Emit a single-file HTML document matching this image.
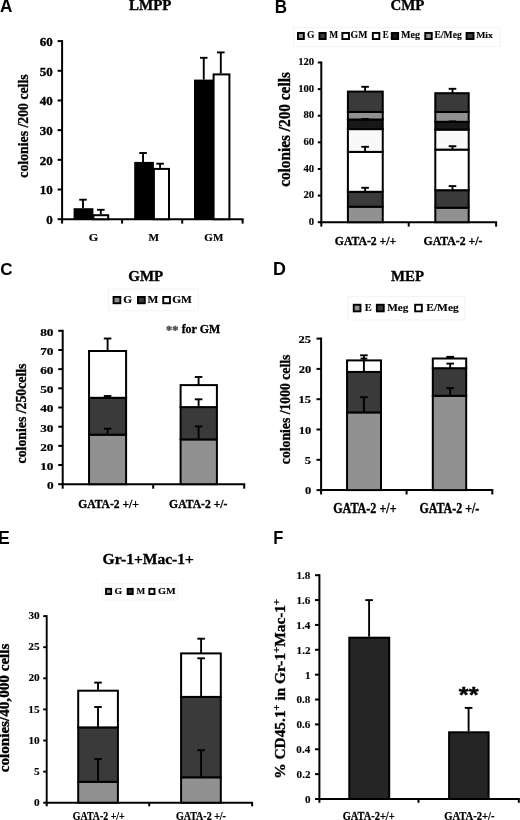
<!DOCTYPE html>
<html><head><meta charset="utf-8"><style>
html,body{margin:0;padding:0;background:#fff;}
svg{display:block;filter:grayscale(100%);}
</style></head><body>
<svg width="520" height="820" viewBox="0 0 520 820">
<rect width="520" height="820" fill="#fff"/>
<text transform="translate(-0.03,12.40) scale(0.9399,1)" font-family="'Liberation Sans',sans-serif" font-weight="bold" font-size="18.26" fill="#000" stroke="#000" stroke-width="0.00" >A</text>
<text transform="translate(274.69,12.60) scale(0.9336,1)" font-family="'Liberation Sans',sans-serif" font-weight="bold" font-size="18.26" fill="#000" stroke="#000" stroke-width="0.00" >B</text>
<text transform="translate(0.22,275.13) scale(0.9951,1)" font-family="'Liberation Sans',sans-serif" font-weight="bold" font-size="17.18" fill="#000" stroke="#000" stroke-width="0.00" >C</text>
<text transform="translate(273.04,275.30) scale(1.0034,1)" font-family="'Liberation Sans',sans-serif" font-weight="bold" font-size="17.83" fill="#000" stroke="#000" stroke-width="0.00" >D</text>
<text transform="translate(-1.95,543.80) scale(0.9692,1)" font-family="'Liberation Sans',sans-serif" font-weight="bold" font-size="18.26" fill="#000" stroke="#000" stroke-width="0.00" >E</text>
<text transform="translate(273.13,543.90) scale(0.8810,1)" font-family="'Liberation Sans',sans-serif" font-weight="bold" font-size="18.70" fill="#000" stroke="#000" stroke-width="0.00" >F</text>
<text transform="translate(129.08,10.40) scale(1.0216,1)" font-family="'Liberation Serif',serif" font-weight="bold" font-size="14.66" fill="#000" stroke="#000" stroke-width="0.35" >LMPP</text>
<text transform="translate(28.35,177.68) rotate(-90) scale(0.9348,1)" font-family="'Liberation Serif',serif" font-weight="bold" font-size="14.75" fill="#000" stroke="#000" stroke-width="0.35">colonies /200 cells</text>
<line x1="62.10" y1="40.10" x2="62.10" y2="220.20" stroke="#000" stroke-width="2"/>
<line x1="57.60" y1="219.20" x2="62.10" y2="219.20" stroke="#000" stroke-width="2"/>
<line x1="57.60" y1="189.52" x2="62.10" y2="189.52" stroke="#000" stroke-width="2"/>
<line x1="57.60" y1="159.83" x2="62.10" y2="159.83" stroke="#000" stroke-width="2"/>
<line x1="57.60" y1="130.15" x2="62.10" y2="130.15" stroke="#000" stroke-width="2"/>
<line x1="57.60" y1="100.47" x2="62.10" y2="100.47" stroke="#000" stroke-width="2"/>
<line x1="57.60" y1="70.78" x2="62.10" y2="70.78" stroke="#000" stroke-width="2"/>
<line x1="57.60" y1="41.10" x2="62.10" y2="41.10" stroke="#000" stroke-width="2"/>
<line x1="61.10" y1="219.20" x2="243.60" y2="219.20" stroke="#000" stroke-width="2"/>
<line x1="62.10" y1="219.20" x2="62.10" y2="223.60" stroke="#000" stroke-width="2"/>
<line x1="122.10" y1="219.20" x2="122.10" y2="223.60" stroke="#000" stroke-width="2"/>
<line x1="182.20" y1="219.20" x2="182.20" y2="223.60" stroke="#000" stroke-width="2"/>
<line x1="242.60" y1="219.20" x2="242.60" y2="223.60" stroke="#000" stroke-width="2"/>
<text transform="translate(46.33,224.12) scale(1.0302,1)" font-family="'Liberation Serif',serif" font-weight="bold" font-size="12.59" fill="#000" stroke="#000" stroke-width="0.35">0</text>
<text transform="translate(39.85,194.44) scale(1.0302,1)" font-family="'Liberation Serif',serif" font-weight="bold" font-size="12.59" fill="#000" stroke="#000" stroke-width="0.35">10</text>
<text transform="translate(39.85,164.76) scale(1.0302,1)" font-family="'Liberation Serif',serif" font-weight="bold" font-size="12.59" fill="#000" stroke="#000" stroke-width="0.35">20</text>
<text transform="translate(39.85,135.07) scale(1.0302,1)" font-family="'Liberation Serif',serif" font-weight="bold" font-size="12.59" fill="#000" stroke="#000" stroke-width="0.35">30</text>
<text transform="translate(39.85,105.39) scale(1.0302,1)" font-family="'Liberation Serif',serif" font-weight="bold" font-size="12.59" fill="#000" stroke="#000" stroke-width="0.35">40</text>
<text transform="translate(39.85,75.71) scale(1.0302,1)" font-family="'Liberation Serif',serif" font-weight="bold" font-size="12.59" fill="#000" stroke="#000" stroke-width="0.35">50</text>
<text transform="translate(39.85,46.02) scale(1.0302,1)" font-family="'Liberation Serif',serif" font-weight="bold" font-size="12.59" fill="#000" stroke="#000" stroke-width="0.35">60</text>
<rect x="73.60" y="208.20" width="19.80" height="11.00" fill="#000"/>
<rect x="93.40" y="215.20" width="14.80" height="4.00" fill="#fff" stroke="#000" stroke-width="2"/>
<line x1="83.00" y1="199.70" x2="83.00" y2="208.20" stroke="#000" stroke-width="1.9"/>
<line x1="79.20" y1="199.70" x2="86.80" y2="199.70" stroke="#000" stroke-width="1.9"/>
<line x1="100.80" y1="209.80" x2="100.80" y2="214.20" stroke="#000" stroke-width="1.9"/>
<line x1="97.00" y1="209.80" x2="104.60" y2="209.80" stroke="#000" stroke-width="1.9"/>
<rect x="134.20" y="161.90" width="19.70" height="57.30" fill="#000"/>
<rect x="153.90" y="168.90" width="15.10" height="50.30" fill="#fff" stroke="#000" stroke-width="2"/>
<line x1="143.05" y1="153.00" x2="143.05" y2="161.90" stroke="#000" stroke-width="1.9"/>
<line x1="139.25" y1="153.00" x2="146.85" y2="153.00" stroke="#000" stroke-width="1.9"/>
<line x1="160.10" y1="163.70" x2="160.10" y2="167.90" stroke="#000" stroke-width="1.9"/>
<line x1="156.30" y1="163.70" x2="163.90" y2="163.70" stroke="#000" stroke-width="1.9"/>
<rect x="194.00" y="79.60" width="19.60" height="139.60" fill="#000"/>
<rect x="213.60" y="74.40" width="15.80" height="144.80" fill="#fff" stroke="#000" stroke-width="2"/>
<line x1="203.75" y1="57.80" x2="203.75" y2="79.60" stroke="#000" stroke-width="1.9"/>
<line x1="199.95" y1="57.80" x2="207.55" y2="57.80" stroke="#000" stroke-width="1.9"/>
<line x1="220.80" y1="52.40" x2="220.80" y2="73.40" stroke="#000" stroke-width="1.9"/>
<line x1="217.00" y1="52.40" x2="224.60" y2="52.40" stroke="#000" stroke-width="1.9"/>
<text transform="translate(88.69,241.09) scale(1.0848,1)" font-family="'Liberation Serif',serif" font-weight="bold" font-size="11.19" fill="#000" stroke="#000" stroke-width="0.20" >G</text>
<text transform="translate(148.48,241.40) scale(0.9884,1)" font-family="'Liberation Serif',serif" font-weight="bold" font-size="11.30" fill="#000" stroke="#000" stroke-width="0.21" >M</text>
<text transform="translate(204.35,241.29) scale(0.9962,1)" font-family="'Liberation Serif',serif" font-weight="bold" font-size="11.04" fill="#000" stroke="#000" stroke-width="0.18" >GM</text>
<text transform="translate(390.46,10.25) scale(0.9981,1)" font-family="'Liberation Serif',serif" font-weight="bold" font-size="14.93" fill="#000" stroke="#000" stroke-width="0.35" >CMP</text>
<rect x="293.50" y="27.70" width="206.70" height="18.80" fill="#fff" stroke="#f3f3f3" stroke-width="1"/>
<rect x="297.95" y="32.95" width="5.90" height="6.10" fill="#919191" stroke="#000" stroke-width="1.9"/>
<rect x="319.45" y="32.95" width="6.20" height="6.10" fill="#3a3a3a" stroke="#000" stroke-width="1.9"/>
<rect x="342.35" y="32.95" width="6.60" height="6.10" fill="#ffffff" stroke="#000" stroke-width="1.9"/>
<rect x="372.85" y="32.95" width="6.50" height="6.10" fill="#ffffff" stroke="#000" stroke-width="1.9"/>
<rect x="391.75" y="32.95" width="6.40" height="6.10" fill="#181818" stroke="#000" stroke-width="1.9"/>
<rect x="425.25" y="32.95" width="6.50" height="6.10" fill="#919191" stroke="#000" stroke-width="1.9"/>
<rect x="466.55" y="32.95" width="7.00" height="6.10" fill="#3a3a3a" stroke="#000" stroke-width="1.9"/>
<text transform="translate(307.02,38.20) scale(0.9716,1)" font-family="'Liberation Serif',serif" font-weight="bold" font-size="9.85" fill="#000" stroke="#000" stroke-width="0.12" >G</text>
<text transform="translate(329.16,38.30) scale(0.9517,1)" font-family="'Liberation Serif',serif" font-weight="bold" font-size="9.92" fill="#000" stroke="#000" stroke-width="0.12" >M</text>
<text transform="translate(350.61,38.20) scale(0.9936,1)" font-family="'Liberation Serif',serif" font-weight="bold" font-size="9.85" fill="#000" stroke="#000" stroke-width="0.12" >GM</text>
<text transform="translate(382.87,38.30) scale(0.8901,1)" font-family="'Liberation Serif',serif" font-weight="bold" font-size="9.92" fill="#000" stroke="#000" stroke-width="0.12" >E</text>
<text transform="translate(400.95,37.94) scale(1.0757,1)" font-family="'Liberation Serif',serif" font-weight="bold" font-size="9.37" fill="#000" stroke="#000" stroke-width="0.12" >Meg</text>
<text transform="translate(434.56,37.92) scale(1.0150,1)" font-family="'Liberation Serif',serif" font-weight="bold" font-size="9.43" fill="#000" stroke="#000" stroke-width="0.12" >E/Meg</text>
<text transform="translate(476.15,38.30) scale(1.0604,1)" font-family="'Liberation Serif',serif" font-weight="bold" font-size="9.21" fill="#000" stroke="#000" stroke-width="0.12" >Mix</text>
<text transform="translate(290.04,186.84) rotate(-90) scale(0.9551,1)" font-family="'Liberation Serif',serif" font-weight="bold" font-size="16.03" fill="#000" stroke="#000" stroke-width="0.35">colonies /200 cells</text>
<line x1="321.30" y1="61.50" x2="321.30" y2="223.20" stroke="#000" stroke-width="2"/>
<line x1="317.80" y1="222.20" x2="321.30" y2="222.20" stroke="#000" stroke-width="2"/>
<line x1="317.80" y1="195.58" x2="321.30" y2="195.58" stroke="#000" stroke-width="2"/>
<line x1="317.80" y1="168.97" x2="321.30" y2="168.97" stroke="#000" stroke-width="2"/>
<line x1="317.80" y1="142.35" x2="321.30" y2="142.35" stroke="#000" stroke-width="2"/>
<line x1="317.80" y1="115.73" x2="321.30" y2="115.73" stroke="#000" stroke-width="2"/>
<line x1="317.80" y1="89.12" x2="321.30" y2="89.12" stroke="#000" stroke-width="2"/>
<line x1="317.80" y1="62.50" x2="321.30" y2="62.50" stroke="#000" stroke-width="2"/>
<line x1="320.30" y1="222.20" x2="497.10" y2="222.20" stroke="#000" stroke-width="2"/>
<line x1="321.30" y1="222.20" x2="321.30" y2="226.60" stroke="#000" stroke-width="2"/>
<line x1="408.70" y1="222.20" x2="408.70" y2="226.60" stroke="#000" stroke-width="2"/>
<line x1="496.10" y1="222.20" x2="496.10" y2="226.60" stroke="#000" stroke-width="2"/>
<text transform="translate(308.87,224.86) scale(1.1491,1)" font-family="'Liberation Serif',serif" font-weight="bold" font-size="9.33" fill="#000" stroke="#000" stroke-width="0.12">0</text>
<text transform="translate(303.50,198.24) scale(1.1491,1)" font-family="'Liberation Serif',serif" font-weight="bold" font-size="9.33" fill="#000" stroke="#000" stroke-width="0.12">20</text>
<text transform="translate(303.50,171.62) scale(1.1491,1)" font-family="'Liberation Serif',serif" font-weight="bold" font-size="9.33" fill="#000" stroke="#000" stroke-width="0.12">40</text>
<text transform="translate(303.50,145.01) scale(1.1491,1)" font-family="'Liberation Serif',serif" font-weight="bold" font-size="9.33" fill="#000" stroke="#000" stroke-width="0.12">60</text>
<text transform="translate(303.50,118.39) scale(1.1491,1)" font-family="'Liberation Serif',serif" font-weight="bold" font-size="9.33" fill="#000" stroke="#000" stroke-width="0.12">80</text>
<text transform="translate(298.14,91.77) scale(1.1491,1)" font-family="'Liberation Serif',serif" font-weight="bold" font-size="9.33" fill="#000" stroke="#000" stroke-width="0.12">100</text>
<text transform="translate(298.14,65.16) scale(1.1491,1)" font-family="'Liberation Serif',serif" font-weight="bold" font-size="9.33" fill="#000" stroke="#000" stroke-width="0.12">120</text>
<rect x="347.90" y="206.70" width="34.85" height="15.50" fill="#919191" stroke="#000" stroke-width="2"/>
<rect x="347.90" y="191.80" width="34.85" height="14.90" fill="#3a3a3a" stroke="#000" stroke-width="2"/>
<rect x="347.90" y="151.90" width="34.85" height="39.90" fill="#ffffff" stroke="#000" stroke-width="2"/>
<rect x="347.90" y="129.10" width="34.85" height="22.80" fill="#f9f9f9" stroke="#000" stroke-width="2"/>
<rect x="347.90" y="119.50" width="34.85" height="9.60" fill="#181818" stroke="#000" stroke-width="2"/>
<rect x="347.90" y="111.90" width="34.85" height="7.60" fill="#919191" stroke="#000" stroke-width="2"/>
<rect x="347.90" y="91.60" width="34.85" height="20.30" fill="#3a3a3a" stroke="#000" stroke-width="2"/>
<line x1="365.10" y1="86.80" x2="365.10" y2="91.60" stroke="#000" stroke-width="1.9"/>
<line x1="361.30" y1="86.80" x2="368.90" y2="86.80" stroke="#000" stroke-width="1.9"/>
<line x1="365.10" y1="146.80" x2="365.10" y2="151.90" stroke="#000" stroke-width="1.9"/>
<line x1="361.30" y1="146.80" x2="368.90" y2="146.80" stroke="#000" stroke-width="1.9"/>
<line x1="365.10" y1="187.80" x2="365.10" y2="191.80" stroke="#000" stroke-width="1.9"/>
<line x1="361.30" y1="187.80" x2="368.90" y2="187.80" stroke="#000" stroke-width="1.9"/>
<line x1="365.10" y1="119.00" x2="365.10" y2="121.00" stroke="#000" stroke-width="1.9"/>
<line x1="361.30" y1="119.00" x2="368.90" y2="119.00" stroke="#000" stroke-width="1.9"/>
<rect x="435.30" y="207.70" width="33.40" height="14.50" fill="#919191" stroke="#000" stroke-width="2"/>
<rect x="435.30" y="190.20" width="33.40" height="17.50" fill="#3a3a3a" stroke="#000" stroke-width="2"/>
<rect x="435.30" y="149.60" width="33.40" height="40.60" fill="#ffffff" stroke="#000" stroke-width="2"/>
<rect x="435.30" y="129.60" width="33.40" height="20.00" fill="#f9f9f9" stroke="#000" stroke-width="2"/>
<rect x="435.30" y="121.80" width="33.40" height="7.80" fill="#181818" stroke="#000" stroke-width="2"/>
<rect x="435.30" y="112.00" width="33.40" height="9.80" fill="#919191" stroke="#000" stroke-width="2"/>
<rect x="435.30" y="93.20" width="33.40" height="18.80" fill="#3a3a3a" stroke="#000" stroke-width="2"/>
<line x1="452.50" y1="88.80" x2="452.50" y2="93.20" stroke="#000" stroke-width="1.9"/>
<line x1="448.70" y1="88.80" x2="456.30" y2="88.80" stroke="#000" stroke-width="1.9"/>
<line x1="452.50" y1="146.20" x2="452.50" y2="149.60" stroke="#000" stroke-width="1.9"/>
<line x1="448.70" y1="146.20" x2="456.30" y2="146.20" stroke="#000" stroke-width="1.9"/>
<line x1="452.50" y1="186.10" x2="452.50" y2="190.20" stroke="#000" stroke-width="1.9"/>
<line x1="448.70" y1="186.10" x2="456.30" y2="186.10" stroke="#000" stroke-width="1.9"/>
<line x1="452.50" y1="121.40" x2="452.50" y2="123.00" stroke="#000" stroke-width="1.9"/>
<line x1="448.70" y1="121.40" x2="456.30" y2="121.40" stroke="#000" stroke-width="1.9"/>
<text transform="translate(334.81,245.07) scale(0.8832,1)" font-family="'Liberation Serif',serif" font-weight="bold" font-size="13.28" fill="#000" stroke="#000" stroke-width="0.35" >GATA-2 +/+</text>
<text transform="translate(423.61,245.07) scale(0.8853,1)" font-family="'Liberation Serif',serif" font-weight="bold" font-size="13.28" fill="#000" stroke="#000" stroke-width="0.35" >GATA-2 +/-</text>
<text transform="translate(128.25,280.66) scale(1.0453,1)" font-family="'Liberation Serif',serif" font-weight="bold" font-size="14.33" fill="#000" stroke="#000" stroke-width="0.35" >GMP</text>
<rect x="108.50" y="289.00" width="89.80" height="21.80" fill="#fff" stroke="#f3f3f3" stroke-width="1"/>
<rect x="113.55" y="296.95" width="6.80" height="6.30" fill="#919191" stroke="#000" stroke-width="1.9"/>
<rect x="137.95" y="296.95" width="6.80" height="6.30" fill="#3a3a3a" stroke="#000" stroke-width="1.9"/>
<rect x="163.25" y="296.95" width="6.70" height="6.30" fill="#ffffff" stroke="#000" stroke-width="1.9"/>
<text transform="translate(123.34,303.49) scale(1.0288,1)" font-family="'Liberation Serif',serif" font-weight="bold" font-size="10.97" fill="#000" stroke="#000" stroke-width="0.17" >G</text>
<text transform="translate(147.43,303.40) scale(1.0269,1)" font-family="'Liberation Serif',serif" font-weight="bold" font-size="11.15" fill="#000" stroke="#000" stroke-width="0.19" >M</text>
<text transform="translate(172.13,303.49) scale(1.0418,1)" font-family="'Liberation Serif',serif" font-weight="bold" font-size="10.97" fill="#000" stroke="#000" stroke-width="0.17" >GM</text>
<text transform="translate(166.11,333.55) scale(0.9648,1)" font-family="'Liberation Serif',serif" font-weight="bold" font-size="12.80" fill="#4a4a4a" stroke="#4a4a4a" stroke-width="0.35" >**</text>
<text transform="translate(181.64,333.08) scale(0.9940,1)" font-family="'Liberation Serif',serif" font-weight="bold" font-size="12.03" fill="#000" stroke="#000" stroke-width="0.30" >for GM</text>
<text transform="translate(26.46,463.38) rotate(-90) scale(1.0112,1)" font-family="'Liberation Serif',serif" font-weight="bold" font-size="13.62" fill="#000" stroke="#000" stroke-width="0.35">colonies /250cells</text>
<line x1="62.70" y1="329.80" x2="62.70" y2="485.20" stroke="#000" stroke-width="2"/>
<line x1="58.20" y1="484.20" x2="62.70" y2="484.20" stroke="#000" stroke-width="2"/>
<line x1="58.20" y1="465.02" x2="62.70" y2="465.02" stroke="#000" stroke-width="2"/>
<line x1="58.20" y1="445.85" x2="62.70" y2="445.85" stroke="#000" stroke-width="2"/>
<line x1="58.20" y1="426.68" x2="62.70" y2="426.68" stroke="#000" stroke-width="2"/>
<line x1="58.20" y1="407.50" x2="62.70" y2="407.50" stroke="#000" stroke-width="2"/>
<line x1="58.20" y1="388.32" x2="62.70" y2="388.32" stroke="#000" stroke-width="2"/>
<line x1="58.20" y1="369.15" x2="62.70" y2="369.15" stroke="#000" stroke-width="2"/>
<line x1="58.20" y1="349.98" x2="62.70" y2="349.98" stroke="#000" stroke-width="2"/>
<line x1="58.20" y1="330.80" x2="62.70" y2="330.80" stroke="#000" stroke-width="2"/>
<line x1="61.70" y1="484.20" x2="245.20" y2="484.20" stroke="#000" stroke-width="2"/>
<line x1="62.70" y1="484.20" x2="62.70" y2="488.70" stroke="#000" stroke-width="2"/>
<line x1="153.20" y1="484.20" x2="153.20" y2="488.70" stroke="#000" stroke-width="2"/>
<line x1="244.20" y1="484.20" x2="244.20" y2="488.70" stroke="#000" stroke-width="2"/>
<text transform="translate(46.88,489.09) scale(1.1810,1)" font-family="'Liberation Serif',serif" font-weight="bold" font-size="11.26" fill="#000" stroke="#000" stroke-width="0.21">0</text>
<text transform="translate(40.23,469.91) scale(1.1810,1)" font-family="'Liberation Serif',serif" font-weight="bold" font-size="11.26" fill="#000" stroke="#000" stroke-width="0.21">10</text>
<text transform="translate(40.23,450.74) scale(1.1810,1)" font-family="'Liberation Serif',serif" font-weight="bold" font-size="11.26" fill="#000" stroke="#000" stroke-width="0.21">20</text>
<text transform="translate(40.23,431.56) scale(1.1810,1)" font-family="'Liberation Serif',serif" font-weight="bold" font-size="11.26" fill="#000" stroke="#000" stroke-width="0.21">30</text>
<text transform="translate(40.23,412.39) scale(1.1810,1)" font-family="'Liberation Serif',serif" font-weight="bold" font-size="11.26" fill="#000" stroke="#000" stroke-width="0.21">40</text>
<text transform="translate(40.23,393.21) scale(1.1810,1)" font-family="'Liberation Serif',serif" font-weight="bold" font-size="11.26" fill="#000" stroke="#000" stroke-width="0.21">50</text>
<text transform="translate(40.23,374.04) scale(1.1810,1)" font-family="'Liberation Serif',serif" font-weight="bold" font-size="11.26" fill="#000" stroke="#000" stroke-width="0.21">60</text>
<text transform="translate(40.23,354.86) scale(1.1810,1)" font-family="'Liberation Serif',serif" font-weight="bold" font-size="11.26" fill="#000" stroke="#000" stroke-width="0.21">70</text>
<text transform="translate(40.23,335.69) scale(1.1810,1)" font-family="'Liberation Serif',serif" font-weight="bold" font-size="11.26" fill="#000" stroke="#000" stroke-width="0.21">80</text>
<rect x="89.05" y="434.70" width="37.05" height="49.50" fill="#919191" stroke="#000" stroke-width="2"/>
<rect x="89.05" y="397.80" width="37.05" height="36.90" fill="#3a3a3a" stroke="#000" stroke-width="2"/>
<rect x="89.05" y="351.00" width="37.05" height="46.80" fill="#ffffff" stroke="#000" stroke-width="2"/>
<line x1="107.60" y1="338.50" x2="107.60" y2="351.00" stroke="#000" stroke-width="1.9"/>
<line x1="103.80" y1="338.50" x2="111.40" y2="338.50" stroke="#000" stroke-width="1.9"/>
<line x1="107.60" y1="396.00" x2="107.60" y2="397.80" stroke="#000" stroke-width="1.9"/>
<line x1="103.80" y1="396.00" x2="111.40" y2="396.00" stroke="#000" stroke-width="1.9"/>
<line x1="107.60" y1="428.70" x2="107.60" y2="434.70" stroke="#000" stroke-width="1.9"/>
<line x1="103.80" y1="428.70" x2="111.40" y2="428.70" stroke="#000" stroke-width="1.9"/>
<rect x="180.60" y="439.40" width="36.30" height="44.80" fill="#919191" stroke="#000" stroke-width="2"/>
<rect x="180.60" y="407.10" width="36.30" height="32.30" fill="#3a3a3a" stroke="#000" stroke-width="2"/>
<rect x="180.60" y="385.10" width="36.30" height="22.00" fill="#ffffff" stroke="#000" stroke-width="2"/>
<line x1="198.60" y1="377.00" x2="198.60" y2="385.10" stroke="#000" stroke-width="1.9"/>
<line x1="194.80" y1="377.00" x2="202.40" y2="377.00" stroke="#000" stroke-width="1.9"/>
<line x1="198.60" y1="399.30" x2="198.60" y2="407.10" stroke="#000" stroke-width="1.9"/>
<line x1="194.80" y1="399.30" x2="202.40" y2="399.30" stroke="#000" stroke-width="1.9"/>
<line x1="198.60" y1="426.40" x2="198.60" y2="439.40" stroke="#000" stroke-width="1.9"/>
<line x1="194.80" y1="426.40" x2="202.40" y2="426.40" stroke="#000" stroke-width="1.9"/>
<text transform="translate(78.22,508.07) scale(0.8714,1)" font-family="'Liberation Serif',serif" font-weight="bold" font-size="13.28" fill="#000" stroke="#000" stroke-width="0.35" >GATA-2 +/+</text>
<text transform="translate(169.12,508.07) scale(0.8776,1)" font-family="'Liberation Serif',serif" font-weight="bold" font-size="13.28" fill="#000" stroke="#000" stroke-width="0.35" >GATA-2 +/-</text>
<text transform="translate(391.08,281.00) scale(0.9727,1)" font-family="'Liberation Serif',serif" font-weight="bold" font-size="15.27" fill="#000" stroke="#000" stroke-width="0.35" >MEP</text>
<rect x="348.00" y="296.60" width="116.90" height="23.30" fill="#fff" stroke="#f3f3f3" stroke-width="1"/>
<rect x="353.75" y="304.75" width="6.70" height="6.60" fill="#919191" stroke="#000" stroke-width="1.9"/>
<rect x="376.85" y="304.75" width="6.90" height="6.60" fill="#3a3a3a" stroke="#000" stroke-width="1.9"/>
<rect x="415.15" y="304.75" width="6.70" height="6.60" fill="#ffffff" stroke="#000" stroke-width="1.9"/>
<text transform="translate(364.74,311.00) scale(1.0917,1)" font-family="'Liberation Serif',serif" font-weight="bold" font-size="9.62" fill="#000" stroke="#000" stroke-width="0.12" >E</text>
<text transform="translate(387.23,311.14) scale(1.1402,1)" font-family="'Liberation Serif',serif" font-weight="bold" font-size="9.83" fill="#000" stroke="#000" stroke-width="0.12" >Meg</text>
<text transform="translate(426.33,310.93) scale(1.0582,1)" font-family="'Liberation Serif',serif" font-weight="bold" font-size="10.80" fill="#000" stroke="#000" stroke-width="0.15" >E/Meg</text>
<text transform="translate(289.96,464.18) rotate(-90) scale(0.9767,1)" font-family="'Liberation Serif',serif" font-weight="bold" font-size="14.04" fill="#000" stroke="#000" stroke-width="0.35">colonies /1000 cells</text>
<line x1="321.10" y1="337.60" x2="321.10" y2="491.10" stroke="#000" stroke-width="2"/>
<line x1="316.50" y1="490.10" x2="321.10" y2="490.10" stroke="#000" stroke-width="2"/>
<line x1="316.50" y1="459.80" x2="321.10" y2="459.80" stroke="#000" stroke-width="2"/>
<line x1="316.50" y1="429.50" x2="321.10" y2="429.50" stroke="#000" stroke-width="2"/>
<line x1="316.50" y1="399.20" x2="321.10" y2="399.20" stroke="#000" stroke-width="2"/>
<line x1="316.50" y1="368.90" x2="321.10" y2="368.90" stroke="#000" stroke-width="2"/>
<line x1="316.50" y1="338.60" x2="321.10" y2="338.60" stroke="#000" stroke-width="2"/>
<line x1="320.10" y1="490.10" x2="493.30" y2="490.10" stroke="#000" stroke-width="2"/>
<line x1="321.10" y1="490.10" x2="321.10" y2="494.50" stroke="#000" stroke-width="2"/>
<line x1="406.60" y1="490.10" x2="406.60" y2="494.50" stroke="#000" stroke-width="2"/>
<line x1="492.30" y1="490.10" x2="492.30" y2="494.50" stroke="#000" stroke-width="2"/>
<text transform="translate(304.93,494.27) scale(1.1510,1)" font-family="'Liberation Serif',serif" font-weight="bold" font-size="10.90" fill="#000" stroke="#000" stroke-width="0.17">0</text>
<text transform="translate(304.87,463.91) scale(1.1510,1)" font-family="'Liberation Serif',serif" font-weight="bold" font-size="10.90" fill="#000" stroke="#000" stroke-width="0.17">5</text>
<text transform="translate(298.66,433.67) scale(1.1510,1)" font-family="'Liberation Serif',serif" font-weight="bold" font-size="10.90" fill="#000" stroke="#000" stroke-width="0.17">10</text>
<text transform="translate(298.60,403.34) scale(1.1510,1)" font-family="'Liberation Serif',serif" font-weight="bold" font-size="10.90" fill="#000" stroke="#000" stroke-width="0.17">15</text>
<text transform="translate(298.66,373.07) scale(1.1510,1)" font-family="'Liberation Serif',serif" font-weight="bold" font-size="10.90" fill="#000" stroke="#000" stroke-width="0.17">20</text>
<text transform="translate(298.60,342.74) scale(1.1510,1)" font-family="'Liberation Serif',serif" font-weight="bold" font-size="10.90" fill="#000" stroke="#000" stroke-width="0.17">25</text>
<rect x="347.05" y="412.40" width="33.95" height="77.70" fill="#919191" stroke="#000" stroke-width="2"/>
<rect x="347.05" y="371.90" width="33.95" height="40.50" fill="#3a3a3a" stroke="#000" stroke-width="2"/>
<rect x="347.05" y="360.40" width="33.95" height="11.50" fill="#ffffff" stroke="#000" stroke-width="2"/>
<line x1="363.90" y1="397.20" x2="363.90" y2="412.40" stroke="#000" stroke-width="1.9"/>
<line x1="360.10" y1="397.20" x2="367.70" y2="397.20" stroke="#000" stroke-width="1.9"/>
<line x1="363.90" y1="355.30" x2="363.90" y2="371.90" stroke="#000" stroke-width="1.9"/>
<line x1="360.10" y1="355.30" x2="367.70" y2="355.30" stroke="#000" stroke-width="1.9"/>
<line x1="360.50" y1="358.60" x2="367.30" y2="358.60" stroke="#000" stroke-width="1.9"/>
<rect x="432.80" y="395.80" width="33.40" height="94.30" fill="#919191" stroke="#000" stroke-width="2"/>
<rect x="432.80" y="368.20" width="33.40" height="27.60" fill="#3a3a3a" stroke="#000" stroke-width="2"/>
<rect x="432.80" y="358.50" width="33.40" height="9.70" fill="#ffffff" stroke="#000" stroke-width="2"/>
<line x1="450.20" y1="388.20" x2="450.20" y2="395.80" stroke="#000" stroke-width="1.9"/>
<line x1="446.40" y1="388.20" x2="454.00" y2="388.20" stroke="#000" stroke-width="1.9"/>
<line x1="450.20" y1="363.60" x2="450.20" y2="368.20" stroke="#000" stroke-width="1.9"/>
<line x1="446.40" y1="363.60" x2="454.00" y2="363.60" stroke="#000" stroke-width="1.9"/>
<rect x="446.30" y="355.90" width="7.80" height="2.60" fill="#000"/>
<text transform="translate(333.19,512.76) scale(0.8718,1)" font-family="'Liberation Serif',serif" font-weight="bold" font-size="13.88" fill="#000" stroke="#000" stroke-width="0.35" >GATA-2 +/+</text>
<text transform="translate(419.40,512.76) scale(0.8633,1)" font-family="'Liberation Serif',serif" font-weight="bold" font-size="13.88" fill="#000" stroke="#000" stroke-width="0.35" >GATA-2 +/-</text>
<text transform="translate(102.62,564.25) scale(1.0205,1)" font-family="'Liberation Serif',serif" font-weight="bold" font-size="15.22" fill="#000" stroke="#000" stroke-width="0.35" >Gr-1+Mac-1+</text>
<rect x="102.30" y="583.40" width="75.40" height="16.60" fill="#fff" stroke="#f3f3f3" stroke-width="1"/>
<rect x="106.05" y="588.85" width="5.10" height="5.20" fill="#919191" stroke="#000" stroke-width="1.9"/>
<rect x="127.65" y="588.85" width="5.10" height="5.20" fill="#3a3a3a" stroke="#000" stroke-width="1.9"/>
<rect x="149.35" y="588.85" width="5.10" height="5.20" fill="#ffffff" stroke="#000" stroke-width="1.9"/>
<text transform="translate(114.61,593.92) scale(1.1793,1)" font-family="'Liberation Serif',serif" font-weight="bold" font-size="8.36" fill="#000" stroke="#000" stroke-width="0.12" >G</text>
<text transform="translate(136.46,594.30) scale(1.0597,1)" font-family="'Liberation Serif',serif" font-weight="bold" font-size="8.70" fill="#000" stroke="#000" stroke-width="0.12" >M</text>
<text transform="translate(157.99,594.21) scale(1.1868,1)" font-family="'Liberation Serif',serif" font-weight="bold" font-size="8.66" fill="#000" stroke="#000" stroke-width="0.12" >GM</text>
<text transform="translate(9.23,772.33) rotate(-90) scale(1.0833,1)" font-family="'Liberation Serif',serif" font-weight="bold" font-size="14.00" fill="#000" stroke="#000" stroke-width="0.35">colonies/40,000 cells</text>
<line x1="46.70" y1="615.15" x2="46.70" y2="803.65" stroke="#000" stroke-width="1.9"/>
<line x1="43.20" y1="802.70" x2="46.70" y2="802.70" stroke="#000" stroke-width="1.9"/>
<line x1="43.20" y1="771.60" x2="46.70" y2="771.60" stroke="#000" stroke-width="1.9"/>
<line x1="43.20" y1="740.50" x2="46.70" y2="740.50" stroke="#000" stroke-width="1.9"/>
<line x1="43.20" y1="709.40" x2="46.70" y2="709.40" stroke="#000" stroke-width="1.9"/>
<line x1="43.20" y1="678.30" x2="46.70" y2="678.30" stroke="#000" stroke-width="1.9"/>
<line x1="43.20" y1="647.20" x2="46.70" y2="647.20" stroke="#000" stroke-width="1.9"/>
<line x1="43.20" y1="616.10" x2="46.70" y2="616.10" stroke="#000" stroke-width="1.9"/>
<line x1="45.70" y1="802.70" x2="253.10" y2="802.70" stroke="#000" stroke-width="2"/>
<line x1="46.70" y1="802.70" x2="46.70" y2="806.30" stroke="#000" stroke-width="2"/>
<line x1="149.20" y1="802.70" x2="149.20" y2="806.30" stroke="#000" stroke-width="2"/>
<line x1="252.10" y1="802.70" x2="252.10" y2="806.30" stroke="#000" stroke-width="2"/>
<text transform="translate(34.05,805.85) scale(1.1389,1)" font-family="'Liberation Serif',serif" font-weight="bold" font-size="9.93" fill="#000" stroke="#000" stroke-width="0.12">0</text>
<text transform="translate(33.99,774.70) scale(1.1389,1)" font-family="'Liberation Serif',serif" font-weight="bold" font-size="9.93" fill="#000" stroke="#000" stroke-width="0.12">5</text>
<text transform="translate(28.40,743.65) scale(1.1389,1)" font-family="'Liberation Serif',serif" font-weight="bold" font-size="9.93" fill="#000" stroke="#000" stroke-width="0.12">10</text>
<text transform="translate(28.34,712.53) scale(1.1389,1)" font-family="'Liberation Serif',serif" font-weight="bold" font-size="9.93" fill="#000" stroke="#000" stroke-width="0.12">15</text>
<text transform="translate(28.40,681.45) scale(1.1389,1)" font-family="'Liberation Serif',serif" font-weight="bold" font-size="9.93" fill="#000" stroke="#000" stroke-width="0.12">20</text>
<text transform="translate(28.34,650.33) scale(1.1389,1)" font-family="'Liberation Serif',serif" font-weight="bold" font-size="9.93" fill="#000" stroke="#000" stroke-width="0.12">25</text>
<text transform="translate(28.40,619.25) scale(1.1389,1)" font-family="'Liberation Serif',serif" font-weight="bold" font-size="9.93" fill="#000" stroke="#000" stroke-width="0.12">30</text>
<rect x="78.20" y="781.80" width="39.70" height="20.90" fill="#919191" stroke="#000" stroke-width="2"/>
<rect x="78.20" y="727.40" width="39.70" height="54.40" fill="#3a3a3a" stroke="#000" stroke-width="2"/>
<rect x="78.20" y="690.70" width="39.70" height="36.70" fill="#ffffff" stroke="#000" stroke-width="2"/>
<line x1="98.00" y1="682.60" x2="98.00" y2="690.70" stroke="#000" stroke-width="1.9"/>
<line x1="94.20" y1="682.60" x2="101.80" y2="682.60" stroke="#000" stroke-width="1.9"/>
<line x1="98.00" y1="707.00" x2="98.00" y2="727.40" stroke="#000" stroke-width="1.9"/>
<line x1="94.20" y1="707.00" x2="101.80" y2="707.00" stroke="#000" stroke-width="1.9"/>
<line x1="98.00" y1="759.00" x2="98.00" y2="781.80" stroke="#000" stroke-width="1.9"/>
<line x1="94.20" y1="759.00" x2="101.80" y2="759.00" stroke="#000" stroke-width="1.9"/>
<rect x="181.10" y="777.30" width="39.70" height="25.40" fill="#919191" stroke="#000" stroke-width="2"/>
<rect x="181.10" y="696.90" width="39.70" height="80.40" fill="#3a3a3a" stroke="#000" stroke-width="2"/>
<rect x="181.10" y="653.40" width="39.70" height="43.50" fill="#ffffff" stroke="#000" stroke-width="2"/>
<line x1="201.10" y1="638.70" x2="201.10" y2="653.40" stroke="#000" stroke-width="1.9"/>
<line x1="197.30" y1="638.70" x2="204.90" y2="638.70" stroke="#000" stroke-width="1.9"/>
<line x1="201.10" y1="658.30" x2="201.10" y2="696.90" stroke="#000" stroke-width="1.9"/>
<line x1="197.30" y1="658.30" x2="204.90" y2="658.30" stroke="#000" stroke-width="1.9"/>
<line x1="201.10" y1="750.20" x2="201.10" y2="777.30" stroke="#000" stroke-width="1.9"/>
<line x1="197.30" y1="750.20" x2="204.90" y2="750.20" stroke="#000" stroke-width="1.9"/>
<text transform="translate(72.80,820.39) scale(0.8617,1)" font-family="'Liberation Serif',serif" font-weight="bold" font-size="11.49" fill="#000" stroke="#000" stroke-width="0.23" >GATA-2 +/+</text>
<text transform="translate(175.90,820.39) scale(0.8710,1)" font-family="'Liberation Serif',serif" font-weight="bold" font-size="11.49" fill="#000" stroke="#000" stroke-width="0.23" >GATA-2 +/-</text>
<line x1="319.40" y1="574.20" x2="319.40" y2="800.00" stroke="#000" stroke-width="2"/>
<line x1="315.00" y1="799.00" x2="319.40" y2="799.00" stroke="#000" stroke-width="2"/>
<line x1="315.00" y1="774.13" x2="319.40" y2="774.13" stroke="#000" stroke-width="2"/>
<line x1="315.00" y1="749.27" x2="319.40" y2="749.27" stroke="#000" stroke-width="2"/>
<line x1="315.00" y1="724.40" x2="319.40" y2="724.40" stroke="#000" stroke-width="2"/>
<line x1="315.00" y1="699.53" x2="319.40" y2="699.53" stroke="#000" stroke-width="2"/>
<line x1="315.00" y1="674.67" x2="319.40" y2="674.67" stroke="#000" stroke-width="2"/>
<line x1="315.00" y1="649.80" x2="319.40" y2="649.80" stroke="#000" stroke-width="2"/>
<line x1="315.00" y1="624.93" x2="319.40" y2="624.93" stroke="#000" stroke-width="2"/>
<line x1="315.00" y1="600.07" x2="319.40" y2="600.07" stroke="#000" stroke-width="2"/>
<line x1="315.00" y1="575.20" x2="319.40" y2="575.20" stroke="#000" stroke-width="2"/>
<line x1="318.40" y1="799.00" x2="519.80" y2="799.00" stroke="#000" stroke-width="2"/>
<line x1="319.40" y1="799.00" x2="319.40" y2="802.80" stroke="#000" stroke-width="2"/>
<line x1="418.50" y1="799.00" x2="418.50" y2="802.80" stroke="#000" stroke-width="2"/>
<line x1="518.80" y1="799.00" x2="518.80" y2="802.80" stroke="#000" stroke-width="2"/>
<text transform="translate(304.89,802.82) scale(1.0784,1)" font-family="'Liberation Serif',serif" font-weight="bold" font-size="10.29" fill="#000" stroke="#000" stroke-width="0.12">0</text>
<text transform="translate(296.62,777.93) scale(1.0784,1)" font-family="'Liberation Serif',serif" font-weight="bold" font-size="10.29" fill="#000" stroke="#000" stroke-width="0.12">0.2</text>
<text transform="translate(296.35,753.06) scale(1.0784,1)" font-family="'Liberation Serif',serif" font-weight="bold" font-size="10.29" fill="#000" stroke="#000" stroke-width="0.12">0.4</text>
<text transform="translate(296.46,728.20) scale(1.0784,1)" font-family="'Liberation Serif',serif" font-weight="bold" font-size="10.29" fill="#000" stroke="#000" stroke-width="0.12">0.6</text>
<text transform="translate(296.51,703.33) scale(1.0784,1)" font-family="'Liberation Serif',serif" font-weight="bold" font-size="10.29" fill="#000" stroke="#000" stroke-width="0.12">0.8</text>
<text transform="translate(305.00,678.51) scale(1.0784,1)" font-family="'Liberation Serif',serif" font-weight="bold" font-size="10.29" fill="#000" stroke="#000" stroke-width="0.12">1</text>
<text transform="translate(296.62,653.57) scale(1.0784,1)" font-family="'Liberation Serif',serif" font-weight="bold" font-size="10.29" fill="#000" stroke="#000" stroke-width="0.12">1.2</text>
<text transform="translate(296.35,628.70) scale(1.0784,1)" font-family="'Liberation Serif',serif" font-weight="bold" font-size="10.29" fill="#000" stroke="#000" stroke-width="0.12">1.4</text>
<text transform="translate(296.46,603.84) scale(1.0784,1)" font-family="'Liberation Serif',serif" font-weight="bold" font-size="10.29" fill="#000" stroke="#000" stroke-width="0.12">1.6</text>
<text transform="translate(296.51,579.00) scale(1.0784,1)" font-family="'Liberation Serif',serif" font-weight="bold" font-size="10.29" fill="#000" stroke="#000" stroke-width="0.12">1.8</text>
<rect x="349.30" y="637.70" width="39.90" height="161.30" fill="#252525" stroke="#000" stroke-width="2"/>
<line x1="369.10" y1="600.10" x2="369.10" y2="636.70" stroke="#000" stroke-width="1.9"/>
<line x1="365.30" y1="600.10" x2="372.90" y2="600.10" stroke="#000" stroke-width="1.9"/>
<rect x="449.10" y="732.30" width="39.50" height="66.70" fill="#252525" stroke="#000" stroke-width="2"/>
<line x1="468.60" y1="707.90" x2="468.60" y2="731.30" stroke="#000" stroke-width="1.9"/>
<line x1="464.80" y1="707.90" x2="472.40" y2="707.90" stroke="#000" stroke-width="1.9"/>
<text transform="translate(458.87,702.12) scale(1.1773,1)" font-family="'Liberation Sans',sans-serif" font-weight="bold" font-size="21.62" fill="#000" stroke="#000" stroke-width="0.35" >**</text>
<text transform="translate(342.78,820.08) scale(0.8941,1)" font-family="'Liberation Serif',serif" font-weight="bold" font-size="11.64" fill="#000" stroke="#000" stroke-width="0.25" >GATA-2+/+</text>
<text transform="translate(444.17,820.08) scale(0.9115,1)" font-family="'Liberation Serif',serif" font-weight="bold" font-size="11.64" fill="#000" stroke="#000" stroke-width="0.25" >GATA-2+/-</text>
<text transform="translate(285.3,778.8) rotate(-90)" font-family="'Liberation Serif',serif" font-weight="bold" font-size="15.4" stroke="#000" stroke-width="0.35">% CD45.1<tspan font-size="10.5" dy="-5.8">+</tspan><tspan dy="5.8"> in Gr-1</tspan><tspan font-size="10.5" dy="-5.8">+</tspan><tspan dy="5.8">Mac-1</tspan><tspan font-size="10.5" dy="-5.8">+</tspan></text>
</svg>
</body></html>
